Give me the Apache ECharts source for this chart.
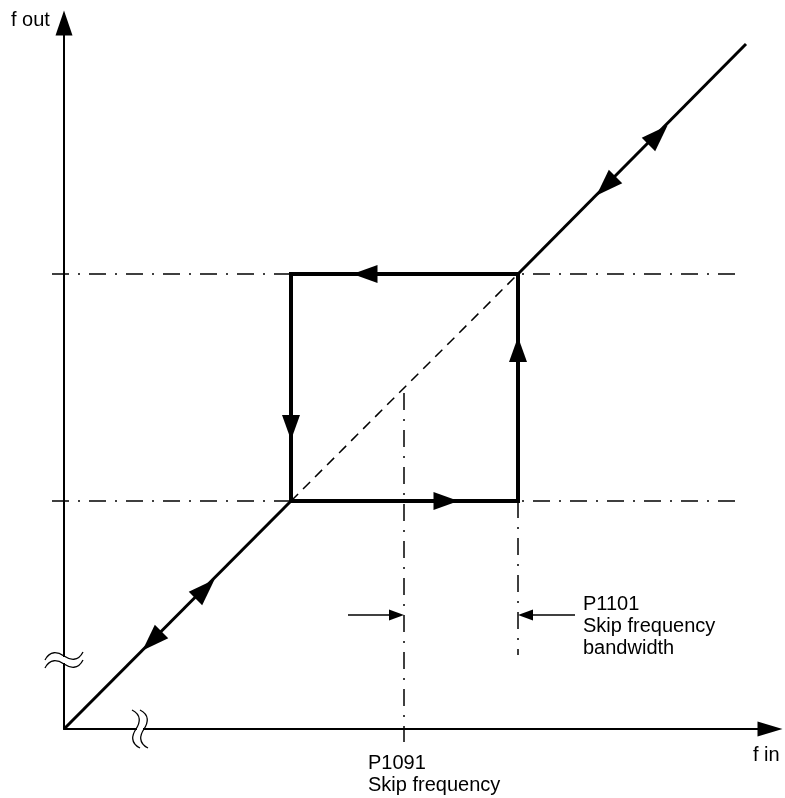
<!DOCTYPE html>
<html>
<head>
<meta charset="utf-8">
<script src="https://cdn.jsdelivr.net/npm/echarts@6/dist/echarts.min.js"></script>
<style>
  html, body { margin: 0; padding: 0; background: #fff; }
  #chart { width: 785px; height: 798px; }
</style>
</head>
<body>
<div id="chart"></div>
<script>
// ---- data (diagram units: f in / f out) ----
const axisMax = [706, 706];
const diagonalLow = [[0, 0], [227, 228]];
const diagonalHigh = [[454, 455], [682, 685]];
const dashedDiagonal = [[227, 228], [454, 455]];
const skipLoop = [[454, 455], [227, 455], [227, 228], [454, 228], [454, 455]];
// dash-dot reference lines: [x1, y1, x2, y2]
const refLines = [
  [-12, 455, 676, 455],
  [-12, 228, 676, 228],
  [340, 336, 340, -13],
  [454, 228, 454, 74]
];
const pointerLeft = [[284, 114], [333, 114]];
const pointerRight = [[511, 114], [461, 114]];
// arrowheads: [x, y, rotation deg]
const loopArrows = [[301, 455, 90], [227, 301.5, 180], [382, 228, -90], [454, 379.5, 0]];
const diagonalArrows = [[141, 140, -45], [88, 88, 135], [594, 594, -45], [542, 543, 135]];
const pointerArrows = [[332.5, 114, -90], [461.5, 114, 90]];
// axis break marks: [x, y, orientation 0=horizontal wave 1=vertical wave]
const breakMarks = [[0, 69, 0], [76, 0, 1]];
// texts
const labels = [
  { text: 'f out', x: 11, y: 20, align: 'left' },
  { text: 'f in', x: 753, y: 755, align: 'left' },
  { text: 'P1091', x: 368, y: 763, align: 'left' },
  { text: 'Skip frequency', x: 368, y: 785, align: 'left' },
  { text: 'P1101', x: 583, y: 604, align: 'left' },
  { text: 'Skip frequency', x: 583, y: 626, align: 'left' },
  { text: 'bandwidth', x: 583, y: 648, align: 'left' }
];

const FONT = '20px "Liberation Sans", Arial, sans-serif';
const dashDot = [17, 9, 2, 9];

function lineSeries(data, width, type, z) {
  return {
    type: 'line', data: data, symbol: 'none', clip: false, silent: true,
    animation: false, z: z || 2,
    lineStyle: { color: '#000', width: width, type: type || 'solid', cap: 'butt', join: 'miter' }
  };
}
function arrowSeries(data, size, z) {
  return {
    type: 'scatter', clip: false, silent: true, animation: false, z: z || 5,
    symbol: 'triangle', symbolSize: size,
    itemStyle: { color: '#000', opacity: 1 },
    data: data.map(d => ({ value: [d[0], d[1]], symbolRotate: d[2] }))
  };
}

const wave = 'M-19,4 C-14,-6 -6,-4 0,0 C6,4 14,6 19,-4';

const chart = echarts.init(document.getElementById('chart'));
chart.setOption({
  animation: false,
  backgroundColor: '#fff',
  grid: { left: 64, right: 15, top: 23, bottom: 69 },
  xAxis: {
    type: 'value', min: 0, max: axisMax[0],
    axisLine: { show: true, lineStyle: { color: '#000', width: 2 }, symbol: ['none', 'triangle'], symbolSize: [15, 25] },
    axisTick: { show: false }, axisLabel: { show: false }, splitLine: { show: false }
  },
  yAxis: {
    type: 'value', min: 0, max: axisMax[1],
    axisLine: { show: true, lineStyle: { color: '#000', width: 2 }, symbol: ['none', 'triangle'], symbolSize: [17, 25] },
    axisTick: { show: false }, axisLabel: { show: false }, splitLine: { show: false }
  },
  graphic: labels.map(l => ({
    type: 'text', x: l.x, y: l.y, silent: true,
    style: { text: l.text, font: FONT, fill: '#000', textAlign: l.align, textVerticalAlign: 'middle', align: l.align, verticalAlign: 'middle' }
  })),
  series: [
    {
      type: 'custom', silent: true, animation: false, clip: false, z: 1,
      data: refLines,
      renderItem: function (params, api) {
        const a = api.coord([api.value(0), api.value(1)]);
        const b = api.coord([api.value(2), api.value(3)]);
        return {
          type: 'line',
          shape: { x1: a[0], y1: a[1], x2: b[0], y2: b[1] },
          style: { stroke: '#000', lineWidth: 1.5, lineDash: dashDot, fill: null }
        };
      }
    },
    lineSeries(dashedDiagonal, 1.5, [10, 7], 1),
    lineSeries(diagonalLow, 3, 'solid', 3),
    lineSeries(diagonalHigh, 3, 'solid', 3),
    lineSeries(skipLoop, 4, 'solid', 4),
    lineSeries(pointerLeft, 1.5, 'solid', 3),
    lineSeries(pointerRight, 1.5, 'solid', 3),
    arrowSeries(loopArrows, [18, 25]),
    arrowSeries(diagonalArrows, [19, 27]),
    arrowSeries(pointerArrows, [11, 15]),
    {
      type: 'custom', silent: true, animation: false, z: 10,
      data: breakMarks,
      renderItem: function (params, api) {
        const p = api.coord([api.value(0), api.value(1)]);
        const vertical = api.value(2) === 1;
        return {
          type: 'group', x: p[0], y: p[1], rotation: vertical ? Math.PI / 2 : 0,
          children: [
            { type: 'rect', shape: { x: -4, y: -3, width: 8, height: 6 }, style: { fill: '#fff' } },
            { type: 'path', y: -4, shape: { pathData: wave }, style: { fill: 'none', stroke: '#000', lineWidth: 1.3 } },
            { type: 'path', y: 4, shape: { pathData: wave }, style: { fill: 'none', stroke: '#000', lineWidth: 1.3 } }
          ]
        };
      }
    }
  ]
});
</script>
</body>
</html>
